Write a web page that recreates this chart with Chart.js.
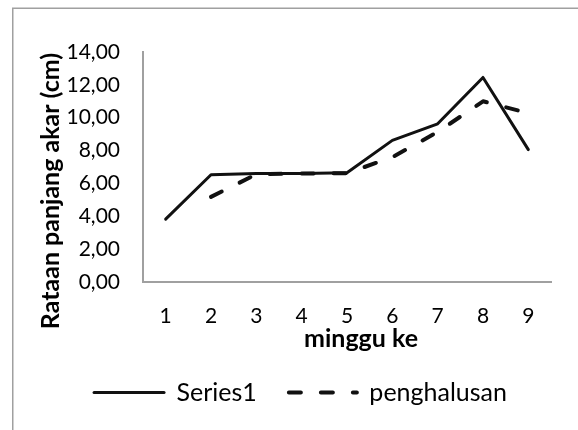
<!DOCTYPE html>
<html>
<head>
<meta charset="utf-8">
<style>
  html, body { margin: 0; padding: 0; background: #ffffff; }
  #wrap { width: 578px; height: 430px; position: relative; }
  canvas { display: block; }
</style>
<script src="https://cdn.jsdelivr.net/npm/chart.js@4.4.1/dist/chart.umd.min.js"></script>
</head>
<body>
<div id="wrap"><canvas id="chart" width="578" height="430"></canvas></div>
<script>
// Weekly mean root length and its smoothed series
const weeks = ['1', '2', '3', '4', '5', '6', '7', '8', '9'];
const series1 = [3.83, 6.53, 6.60, 6.60, 6.65, 8.62, 9.63, 12.45, 8.06];
const penghalusan = [null, 5.18, 6.56, 6.60, 6.62, 7.60, 9.13, 11.00, 10.28];
const seriesNames = ['Series1', 'penghalusan'];
const yTicks = [0, 2, 4, 6, 8, 10, 12, 14];
const yTickLabels = ['0,00', '2,00', '4,00', '6,00', '8,00', '10,00', '12,00', '14,00'];
const xTitle = 'minggu ke';
const yTitle = 'Rataan panjang akar (cm)';

const FONT = 'Lato';
const INK = '#000000';
const AXIS_GREY = '#a0a0a0';
const PAD_LEFT = 50;

// Thin frame around the chart (left and top edges fall inside the page)
const framePlugin = {
  id: 'frame',
  beforeDraw(chart) {
    const ctx = chart.ctx;
    ctx.save();
    ctx.strokeStyle = AXIS_GREY;
    ctx.lineWidth = 1.5;
    ctx.beginPath();
    ctx.moveTo(12.75, chart.height);
    ctx.lineTo(12.75, 8.25);
    ctx.lineTo(chart.width, 8.25);
    ctx.stroke();
    ctx.restore();
  }
};

// Axis titles, placed relative to the plot area
const axisTitlePlugin = {
  id: 'axisTitles',
  afterDraw(chart) {
    const { ctx, chartArea: a } = chart;
    ctx.save();
    ctx.fillStyle = INK;
    ctx.font = 'bold 25px ' + FONT;
    ctx.textAlign = 'center';
    ctx.textBaseline = 'middle';
    ctx.fillText(xTitle, (a.left + a.right) / 2 + 14, a.bottom + 57);
    ctx.translate(51, (a.top + a.bottom) / 2 + 24);
    ctx.rotate(-Math.PI / 2);
    ctx.fillText(yTitle, 0, 0);
    ctx.restore();
  }
};

new Chart(document.getElementById('chart'), {
  type: 'line',
  data: {
    labels: weeks,
    datasets: [
      {
        label: seriesNames[0],
        data: series1,
        borderColor: '#111111',
        backgroundColor: '#111111',
        borderWidth: 3,
        borderCapStyle: 'round',
        borderJoinStyle: 'round',
        pointRadius: 0,
        pointHoverRadius: 0,
        tension: 0,
        fill: false
      },
      {
        label: seriesNames[1],
        data: penghalusan,
        borderColor: '#111111',
        backgroundColor: '#111111',
        borderWidth: 4,
        borderDash: [12, 20],
        borderDashOffset: 0,
        borderCapStyle: 'round',
        borderJoinStyle: 'round',
        pointRadius: 0,
        pointHoverRadius: 0,
        tension: 0,
        fill: false,
        spanGaps: false
      }
    ]
  },
  options: {
    responsive: false,
    animation: false,
    devicePixelRatio: 1,
    layout: { padding: { left: PAD_LEFT, top: 52, right: 27, bottom: 15 } },
    scales: {
      x: {
        type: 'category',
        offset: true,
        grid: { display: true, drawOnChartArea: false, drawTicks: false },
        border: { display: true, color: AXIS_GREY, width: 2 },
        ticks: {
          padding: 22,
          color: INK,
          font: { family: FONT, size: 21 },
          maxRotation: 0,
          autoSkip: false
        },
        afterFit(scale) { scale.height = 68; }
      },
      y: {
        min: 0,
        max: 14,
        grid: { display: true, drawOnChartArea: false, drawTicks: false },
        border: { display: true, color: AXIS_GREY, width: 2 },
        ticks: {
          stepSize: 2,
          padding: 23,
          color: INK,
          font: { family: FONT, size: 21 },
          callback(value) {
            const i = yTicks.indexOf(value);
            return i >= 0 ? yTickLabels[i] : '';
          }
        },
        afterFit(scale) { scale.width = 143 - PAD_LEFT; }
      }
    },
    plugins: {
      tooltip: { enabled: false },
      title: { display: false },
      legend: {
        position: 'bottom',
        align: 'center',
        labels: {
          usePointStyle: true,
          pointStyle: 'line',
          pointStyleWidth: 70,
          boxHeight: 10,
          padding: 30,
          color: INK,
          font: { family: FONT, size: 25 },
          generateLabels(chart) {
            const items = Chart.defaults.plugins.legend.labels.generateLabels(chart);
            items.forEach((it) => {
              const ds = chart.data.datasets[it.datasetIndex];
              it.lineWidth = ds.borderWidth;
              it.strokeStyle = ds.borderColor;
              it.lineCap = ds.borderCapStyle;
              it.lineDash = ds.borderDash || [];
              it.lineDashOffset = ds.borderDash ? 30 : 0;
            });
            return items;
          }
        }
      }
    }
  },
  plugins: [framePlugin, axisTitlePlugin]
});
</script>
</body>
</html>
